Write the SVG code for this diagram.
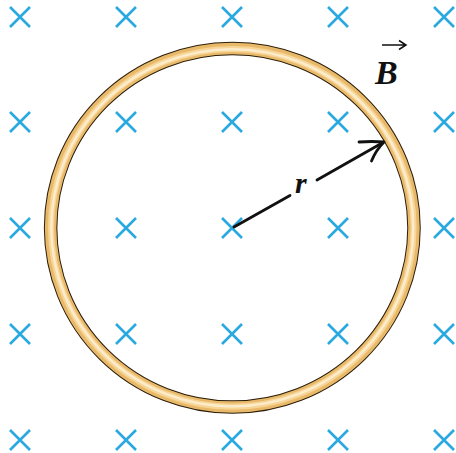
<svg xmlns="http://www.w3.org/2000/svg" width="456" height="453" viewBox="0 0 456 453">
<defs>
<style>
.x{stroke:#2aa8e0;stroke-width:2.6;fill:none;stroke-linecap:butt}
.ar{stroke:#111;stroke-width:2.8;fill:none;stroke-linecap:round;stroke-linejoin:round}
.lbl{font-family:"Liberation Serif","Times New Roman",serif;font-style:italic;fill:#111}
</style>
<path id="xm" class="x" d="M-10,-10L10,10M10,-10L-10,10"/>
</defs>
<rect width="456" height="453" fill="#fff"/>
<g id="field">
<use href="#xm" x="20" y="17"/><use href="#xm" x="126" y="17"/><use href="#xm" x="232" y="17"/><use href="#xm" x="338" y="17"/><use href="#xm" x="444" y="17"/>
<use href="#xm" x="20" y="122"/><use href="#xm" x="126" y="122"/><use href="#xm" x="232" y="122"/><use href="#xm" x="338" y="122"/><use href="#xm" x="444" y="122"/>
<use href="#xm" x="20" y="228"/><use href="#xm" x="126" y="228"/><use href="#xm" x="232" y="228"/><use href="#xm" x="338" y="228"/><use href="#xm" x="444" y="228"/>
<use href="#xm" x="20" y="334"/><use href="#xm" x="126" y="334"/><use href="#xm" x="232" y="334"/><use href="#xm" x="338" y="334"/><use href="#xm" x="444" y="334"/>
<use href="#xm" x="20" y="440"/><use href="#xm" x="126" y="440"/><use href="#xm" x="232" y="440"/><use href="#xm" x="338" y="440"/><use href="#xm" x="444" y="440"/>
</g>
<g id="ring">
<ellipse cx="232.3" cy="227.8" rx="181.7" ry="179.3" fill="none" stroke="#2b1d0a" stroke-width="13.5"/>
<ellipse cx="232.3" cy="227.8" rx="181.7" ry="179.3" fill="none" stroke="#e9b96a" stroke-width="11.5"/>
<ellipse cx="232.3" cy="227.8" rx="181.3" ry="178.9" fill="none" stroke="#f6d597" stroke-width="6"/>
<ellipse cx="232.3" cy="227.8" rx="181" ry="178.6" fill="none" stroke="#fdeccb" stroke-width="2.5"/>
</g>
<g id="connectors">
<path class="ar" d="M234,227L290,195.5M317,180L383,142.5"/>
<path class="ar" d="M359,142Q372,141 384,142Q376,150 371.5,161"/>
</g>
<g id="label-r"><text class="lbl" x="295" y="193" font-size="30" font-weight="bold">r</text></g>
<g id="label-B">
<text class="lbl" x="375" y="84" font-size="34" font-weight="bold">B</text>
<path d="M382,45H406M399,40.5L406,45L399,49.5" fill="none" stroke="#111" stroke-width="1.5"/>
</g>
</svg>
